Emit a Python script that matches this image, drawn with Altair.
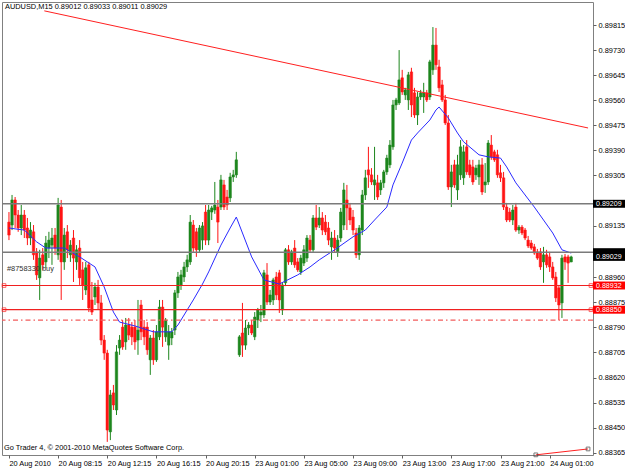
import altair as alt
import pandas as pd

# ---------------- data (AUDUSD, M15) ----------------
opens = [
 0.89147, 0.89137, 0.89222, 0.89171, 0.89127, 0.89171, 0.89127, 0.89093, 0.89114, 0.89046,
 0.88958, 0.89036, 0.89012, 0.89059, 0.89069, 0.89103, 0.89036, 0.89198, 0.89012, 0.89114,
 0.89036, 0.89093, 0.89012, 0.89059, 0.88985, 0.88917, 0.89002, 0.88883, 0.88893, 0.88927,
 0.88873, 0.88747, 0.88703, 0.88436, 0.88568, 0.88510, 0.88720, 0.88791, 0.88741, 0.88798,
 0.88791, 0.88791, 0.88747, 0.88866, 0.88791, 0.88791, 0.88680, 0.88754, 0.88680, 0.88758,
 0.88859, 0.88758, 0.88730, 0.88754, 0.88781, 0.88907, 0.88934, 0.88961, 0.88995, 0.89012,
 0.89137, 0.89114, 0.89053, 0.89086, 0.89181, 0.89086, 0.89181, 0.89188, 0.89198, 0.89198,
 0.89273, 0.89232, 0.89229, 0.89300, 0.89307, 0.88697, 0.88771, 0.88730, 0.88788, 0.88798,
 0.88758, 0.88815, 0.88832, 0.88832, 0.88968, 0.88876, 0.88883, 0.88961, 0.88975, 0.88849,
 0.88941, 0.89053, 0.89012, 0.89059, 0.89012, 0.88978, 0.89008, 0.89025, 0.89086, 0.89053,
 0.89161, 0.89137, 0.89161, 0.89147, 0.89127, 0.89063, 0.89093, 0.89046, 0.89093, 0.89137,
 0.89222, 0.89195, 0.89164, 0.89110, 0.89036, 0.89120, 0.89239, 0.89324, 0.89307, 0.89273,
 0.89280, 0.89256, 0.89280, 0.89317, 0.89341, 0.89402, 0.89544, 0.89551, 0.89636, 0.89578,
 0.89561, 0.89656, 0.89585, 0.89510, 0.89571, 0.89571, 0.89585, 0.89571, 0.89663, 0.89747,
 0.89673, 0.89612, 0.89561, 0.89483, 0.89266, 0.89341, 0.89256, 0.89307, 0.89297, 0.89402,
 0.89341, 0.89334, 0.89307, 0.89300, 0.89341, 0.89273, 0.89283, 0.89408, 0.89385, 0.89375,
 0.89314, 0.89297, 0.89198, 0.89181, 0.89154, 0.89198, 0.89120, 0.89130, 0.89120, 0.89086,
 0.89076, 0.89063, 0.89046, 0.89046, 0.89012, 0.89036, 0.89029, 0.88995, 0.88961, 0.88924,
 0.88873, 0.89029, 0.89029, 0.89012]
highs = [
 0.89181, 0.89239, 0.89232, 0.89188, 0.89205, 0.89188, 0.89161, 0.89147, 0.89137, 0.89059,
 0.89053, 0.89059, 0.89100, 0.89114, 0.89127, 0.89127, 0.89229, 0.89222, 0.89127, 0.89137,
 0.89086, 0.89120, 0.89069, 0.89086, 0.89012, 0.89012, 0.89012, 0.88944, 0.88941, 0.88951,
 0.88900, 0.88764, 0.88714, 0.88578, 0.88595, 0.88730, 0.88764, 0.88815, 0.88822, 0.88822,
 0.88808, 0.88815, 0.88883, 0.88883, 0.88815, 0.88808, 0.88764, 0.88781, 0.88798, 0.88883,
 0.88883, 0.88822, 0.88798, 0.88788, 0.88917, 0.88978, 0.88985, 0.89012, 0.89036, 0.89171,
 0.89154, 0.89127, 0.89137, 0.89147, 0.89205, 0.89205, 0.89202, 0.89283, 0.89222, 0.89307,
 0.89290, 0.89256, 0.89314, 0.89324, 0.89385, 0.88764, 0.88873, 0.88815, 0.88808, 0.88815,
 0.88842, 0.88856, 0.88866, 0.88985, 0.89008, 0.88917, 0.88958, 0.88978, 0.88985, 0.88944,
 0.89059, 0.89069, 0.89053, 0.89086, 0.89025, 0.89036, 0.89069, 0.89103, 0.89103, 0.89171,
 0.89205, 0.89198, 0.89181, 0.89171, 0.89147, 0.89114, 0.89120, 0.89103, 0.89195, 0.89280,
 0.89273, 0.89212, 0.89188, 0.89127, 0.89137, 0.89256, 0.89324, 0.89402, 0.89330, 0.89402,
 0.89307, 0.89290, 0.89324, 0.89375, 0.89425, 0.89561, 0.89568, 0.89730, 0.89663, 0.89602,
 0.89656, 0.89670, 0.89602, 0.89588, 0.89595, 0.89619, 0.89595, 0.89697, 0.89808, 0.89805,
 0.89697, 0.89629, 0.89578, 0.89510, 0.89341, 0.89358, 0.89375, 0.89425, 0.89408, 0.89425,
 0.89358, 0.89358, 0.89341, 0.89358, 0.89364, 0.89347, 0.89425, 0.89442, 0.89392, 0.89392,
 0.89341, 0.89317, 0.89212, 0.89195, 0.89205, 0.89212, 0.89137, 0.89137, 0.89127, 0.89100,
 0.89086, 0.89073, 0.89056, 0.89059, 0.89063, 0.89053, 0.89046, 0.89012, 0.88978, 0.88934,
 0.89036, 0.89039, 0.89036, 0.89033]
lows = [
 0.89086, 0.89120, 0.89127, 0.89114, 0.89103, 0.89093, 0.89069, 0.89069, 0.89019, 0.88951,
 0.88883, 0.88985, 0.88992, 0.89025, 0.89002, 0.89036, 0.89019, 0.88883, 0.88985, 0.89025,
 0.89012, 0.88944, 0.88985, 0.88934, 0.88883, 0.88900, 0.88842, 0.88832, 0.88866, 0.88849,
 0.88730, 0.88680, 0.88402, 0.88408, 0.88510, 0.88493, 0.88697, 0.88714, 0.88714, 0.88747,
 0.88730, 0.88714, 0.88697, 0.88747, 0.88730, 0.88697, 0.88629, 0.88663, 0.88673, 0.88747,
 0.88724, 0.88741, 0.88680, 0.88730, 0.88764, 0.88890, 0.88917, 0.88944, 0.88978, 0.89002,
 0.89046, 0.89029, 0.89046, 0.89053, 0.89069, 0.89069, 0.89154, 0.89175, 0.89076, 0.89188,
 0.89188, 0.89188, 0.89215, 0.89283, 0.89297, 0.88690, 0.88690, 0.88714, 0.88764, 0.88764,
 0.88747, 0.88788, 0.88808, 0.88822, 0.88866, 0.88866, 0.88866, 0.88883, 0.88839, 0.88832,
 0.88930, 0.89002, 0.89002, 0.88992, 0.88978, 0.88968, 0.88998, 0.89012, 0.89046, 0.89046,
 0.89120, 0.89127, 0.89103, 0.89103, 0.89069, 0.89019, 0.89046, 0.89029, 0.89080, 0.89120,
 0.89120, 0.89137, 0.89103, 0.89025, 0.89019, 0.89103, 0.89222, 0.89263, 0.89273, 0.89222,
 0.89222, 0.89239, 0.89263, 0.89307, 0.89330, 0.89392, 0.89527, 0.89544, 0.89578, 0.89561,
 0.89527, 0.89503, 0.89500, 0.89476, 0.89561, 0.89517, 0.89554, 0.89561, 0.89646, 0.89663,
 0.89588, 0.89554, 0.89476, 0.89256, 0.89198, 0.89263, 0.89222, 0.89290, 0.89273, 0.89307,
 0.89297, 0.89273, 0.89290, 0.89273, 0.89239, 0.89246, 0.89273, 0.89358, 0.89351, 0.89297,
 0.89283, 0.89188, 0.89147, 0.89147, 0.89137, 0.89114, 0.89107, 0.89103, 0.89086, 0.89059,
 0.89053, 0.89036, 0.89019, 0.88985, 0.88941, 0.88992, 0.88978, 0.88951, 0.88876, 0.88815,
 0.88822, 0.88985, 0.88941, 0.89011]
closes = [
 0.89103, 0.89222, 0.89171, 0.89127, 0.89171, 0.89120, 0.89093, 0.89120, 0.89036, 0.88968,
 0.89025, 0.89002, 0.89076, 0.89086, 0.89093, 0.89059, 0.89205, 0.89012, 0.89103, 0.89053,
 0.89069, 0.89025, 0.89053, 0.88958, 0.88934, 0.88992, 0.88856, 0.88842, 0.88927, 0.88873,
 0.88747, 0.88703, 0.88442, 0.88561, 0.88527, 0.88707, 0.88747, 0.88724, 0.88798, 0.88764,
 0.88758, 0.88741, 0.88781, 0.88775, 0.88758, 0.88714, 0.88754, 0.88680, 0.88775, 0.88859,
 0.88791, 0.88815, 0.88775, 0.88775, 0.88907, 0.88961, 0.88968, 0.88995, 0.89019, 0.89147,
 0.89059, 0.89053, 0.89127, 0.89134, 0.89086, 0.89188, 0.89195, 0.89205, 0.89147, 0.89290,
 0.89198, 0.89205, 0.89300, 0.89307, 0.89358, 0.88758, 0.88730, 0.88788, 0.88798, 0.88771,
 0.88825, 0.88849, 0.88842, 0.88975, 0.88876, 0.88900, 0.88951, 0.88900, 0.88883, 0.88934,
 0.89053, 0.89012, 0.89046, 0.89002, 0.88985, 0.89025, 0.89053, 0.89093, 0.89053, 0.89161,
 0.89130, 0.89161, 0.89120, 0.89114, 0.89086, 0.89093, 0.89059, 0.89086, 0.89181, 0.89256,
 0.89195, 0.89154, 0.89120, 0.89036, 0.89127, 0.89239, 0.89297, 0.89307, 0.89283, 0.89290,
 0.89232, 0.89280, 0.89317, 0.89364, 0.89408, 0.89544, 0.89561, 0.89629, 0.89588, 0.89595,
 0.89646, 0.89544, 0.89510, 0.89571, 0.89585, 0.89585, 0.89561, 0.89690, 0.89747, 0.89680,
 0.89602, 0.89561, 0.89483, 0.89266, 0.89317, 0.89273, 0.89341, 0.89402, 0.89385, 0.89317,
 0.89307, 0.89283, 0.89330, 0.89341, 0.89249, 0.89283, 0.89415, 0.89368, 0.89358, 0.89307,
 0.89297, 0.89198, 0.89154, 0.89154, 0.89188, 0.89120, 0.89130, 0.89110, 0.89093, 0.89066,
 0.89059, 0.89042, 0.89025, 0.88995, 0.89036, 0.89002, 0.88995, 0.88958, 0.88890, 0.88866,
 0.89025, 0.89012, 0.89008, 0.89029]

# moving average (blue line), read at selected bars
ma_idx = [0, 2, 5, 9, 12, 18, 23, 28, 31, 34, 36, 41, 47, 53, 55, 60, 63, 65, 69, 72,
          74, 79, 83, 88, 94, 98, 101, 106, 112, 116, 119, 123, 125, 128, 131, 133, 137, 139, 140, 143,
          146, 148, 153, 156, 160, 162, 165, 171, 174, 177, 180, 183]
ma_val = [0.89127, 0.89124, 0.89120, 0.89080, 0.89059, 0.89059, 0.89029, 0.88995, 0.88927, 0.88842,
          0.88808, 0.88795, 0.88775, 0.88775, 0.88798, 0.88883, 0.88937, 0.88978, 0.89069, 0.89127,
          0.89164, 0.89029, 0.88951, 0.88937, 0.88968, 0.88995, 0.89019, 0.89053, 0.89097, 0.89120,
          0.89154, 0.89198, 0.89273, 0.89347, 0.89425, 0.89449, 0.89493, 0.89527, 0.89537, 0.89500,
          0.89449, 0.89419, 0.89375, 0.89368, 0.89364, 0.89334, 0.89280, 0.89198, 0.89154, 0.89110,
          0.89053, 0.89042]

# time axis
tick_idx = [0, 16, 32, 48, 64, 80, 96, 112, 128, 144, 160, 176]
tick_labels = ["20 Aug 2010", "20 Aug 08:15", "20 Aug 12:15", "20 Aug 16:15", "20 Aug 20:15",
               "23 Aug 01:00", "23 Aug 05:00", "23 Aug 09:00", "23 Aug 13:00", "23 Aug 17:00",
               "23 Aug 21:00", "24 Aug 01:00"]
# price axis (the labels hidden behind the line labels are left out)
price_ticks = [0.89815, 0.89730, 0.89645, 0.89560, 0.89475, 0.89390, 0.89305, 0.89135,
               0.88960, 0.88875, 0.88790, 0.88705, 0.88620, 0.88535, 0.88450, 0.88365]

# chart objects
gray_levels = [0.89209, 0.89045]
order_levels = [0.88932, 0.88850]
dashdot_levels = [0.88815]
trend_idx = [11.5, 188.5]
trend_val = [0.89863, 0.89466]
trend2_idx = [171.5, 188.5]
trend2_val = [0.88358, 0.88378]
box_prices = [0.89209, 0.89045, 0.88932, 0.88850, 0.89029]
box_fills = ["#000000", "#000000", "#ff0000", "#ff0000", "#000000"]
box_texts = ["0.89209", "", "0.88932", "0.88850", "0.89029"]

title_text = "AUDUSD,M15  0.89012 0.89033 0.89011 0.89029"
copyright_text = "Go Trader 4, \u00a9 2001-2010 MetaQuotes Software Corp."
order_text = "#8758330 buy"

# ---------------- chart ----------------
FONT = "Liberation Sans"
FS = 7.4
GREEN = "#1d861d"
RED = "#ff1414"

df = pd.DataFrame({"i": list(range(len(opens))), "open": opens, "high": highs,
                   "low": lows, "close": closes})
df["bull"] = df["close"] >= df["open"]

xs = alt.Scale(domain=[-0.64, 188.48], nice=False, zero=False)
ys = alt.Scale(domain=[0.883575, 0.89893], nice=False, zero=False)

expr = ""
for v, lab in zip(tick_idx, tick_labels):
    expr += f"datum.value == {v} ? '{lab}' : "
expr += "''"

x_axis = alt.Axis(values=tick_idx, labelExpr=expr, grid=False, domain=False, tickSize=3,
                  tickColor="#606060", labelFont=FONT, labelFontSize=FS, labelColor="#000000",
                  labelAlign="left", labelPadding=1, labelFlush=False, labelOverlap=False,
                  labelBound=False, title=None, zindex=0)
y_axis = alt.Axis(orient="right", values=price_ticks, format=".5f", grid=False, domain=False,
                  tickSize=3, tickColor="#606060", labelFont=FONT, labelFontSize=FS,
                  labelColor="#000000", labelAlign="left", labelBaseline="middle",
                  labelPadding=2, labelFlush=False, labelOverlap=False, labelBound=False,
                  title=None, zindex=0)


def X(f):
    return alt.X(f, type="quantitative", scale=xs, axis=x_axis)


def Y(f):
    return alt.Y(f, type="quantitative", scale=ys, axis=y_axis)


color_cond = alt.condition("datum.bull", alt.value(GREEN), alt.value(RED))

wicks = alt.Chart(df).mark_rule(strokeWidth=1).encode(
    x=X("i"), y=Y("low"), y2="high", color=color_cond)
bodies = alt.Chart(df).mark_bar(size=2.5, strokeWidth=0.5).encode(
    x=X("i"), y=Y("open"), y2="close", color=color_cond, stroke=color_cond)

ma_df = pd.DataFrame({"i": ma_idx, "v": ma_val})
ma = alt.Chart(ma_df).mark_line(color="#2a2aff", strokeWidth=1).encode(x=X("i"), y=Y("v"))

gray = alt.Chart(pd.DataFrame({"p": gray_levels})).mark_rule(
    color="#7a7a7a", strokeWidth=1.6).encode(y=Y("p"))
orders = alt.Chart(pd.DataFrame({"p": order_levels})).mark_rule(
    color="#f02020", strokeWidth=1.2).encode(y=Y("p"))
dashdot = alt.Chart(pd.DataFrame({"p": dashdot_levels})).mark_rule(
    color="#f25c5c", strokeWidth=1.2, strokeDash=[5, 3, 1.5, 3]).encode(y=Y("p"))

tr1 = alt.Chart(pd.DataFrame({"i": trend_idx, "v": trend_val})).mark_line(
    color="#ff2020", strokeWidth=1).encode(x=X("i"), y=Y("v"))
tr2_df = pd.DataFrame({"i": trend2_idx, "v": trend2_val})
tr2 = alt.Chart(tr2_df).mark_line(color="#ff2020", strokeWidth=1).encode(x=X("i"), y=Y("v"))
tr2_sq = alt.Chart(tr2_df).mark_square(size=14, filled=False, color="#404040",
                                       strokeWidth=1).encode(x=X("i"), y=Y("v"))

ord_df = pd.DataFrame({"p": order_levels})
sq_left = alt.Chart(ord_df).mark_square(size=14, filled=False, color="#ff2020",
                                        strokeWidth=1).encode(x=alt.value(2), y=Y("p"))
sq_right = alt.Chart(ord_df).mark_square(size=14, filled=False, color="#ff2020",
                                         strokeWidth=1).encode(x=alt.value(589), y=Y("p"))

box_df = pd.DataFrame({"p": box_prices, "fill": box_fills, "lab": box_texts})
box_df["top"] = box_df["p"] + 0.000135
box_df["bot"] = box_df["p"] - 0.000135
box_layers = []
for k in range(len(box_df)):
    sub = box_df.iloc[[k]]
    box_layers.append(alt.Chart(sub).mark_rect().encode(
        x=alt.value(591), x2=alt.value(623), y=Y("top"), y2="bot",
        color=alt.Color("fill:N", scale=None)))
    if box_texts[k]:
        box_layers.append(alt.Chart(sub).mark_text(
            align="left", baseline="middle", font=FONT, fontSize=7.1, color="#ffffff").encode(
            x=alt.value(594), y=Y("p"), text="lab:N"))

one = pd.DataFrame({"a": [0]})
title = alt.Chart(one).mark_text(align="left", baseline="middle", font=FONT, fontSize=FS,
                                 color="#000000", text=title_text).encode(
    x=alt.value(3), y=alt.value(5))
copyright = alt.Chart(one).mark_text(align="left", baseline="middle", font=FONT, fontSize=FS,
                                     color="#000000", text=copyright_text).encode(
    x=alt.value(2), y=alt.value(446))
order_lbl = alt.Chart(one).mark_text(align="left", baseline="middle", font=FONT, fontSize=FS,
                                     color="#303030", text=order_text).encode(
    x=alt.value(5), y=alt.value(267))

chart = alt.layer(
    wicks, bodies, ma, gray, orders, dashdot, tr1, tr2, tr2_sq, sq_left, sq_right,
    order_lbl, *box_layers, title, copyright
).properties(
    width=591, height=453,
    autosize=alt.AutoSizeParams(type="none"),
    padding={"left": 2, "top": 2, "right": 32, "bottom": 14},
    background="#ffffff",
).configure_view(stroke="#808080", strokeWidth=1)

chart.save("out.html", embed_options={"renderer": "svg", "actions": False})
